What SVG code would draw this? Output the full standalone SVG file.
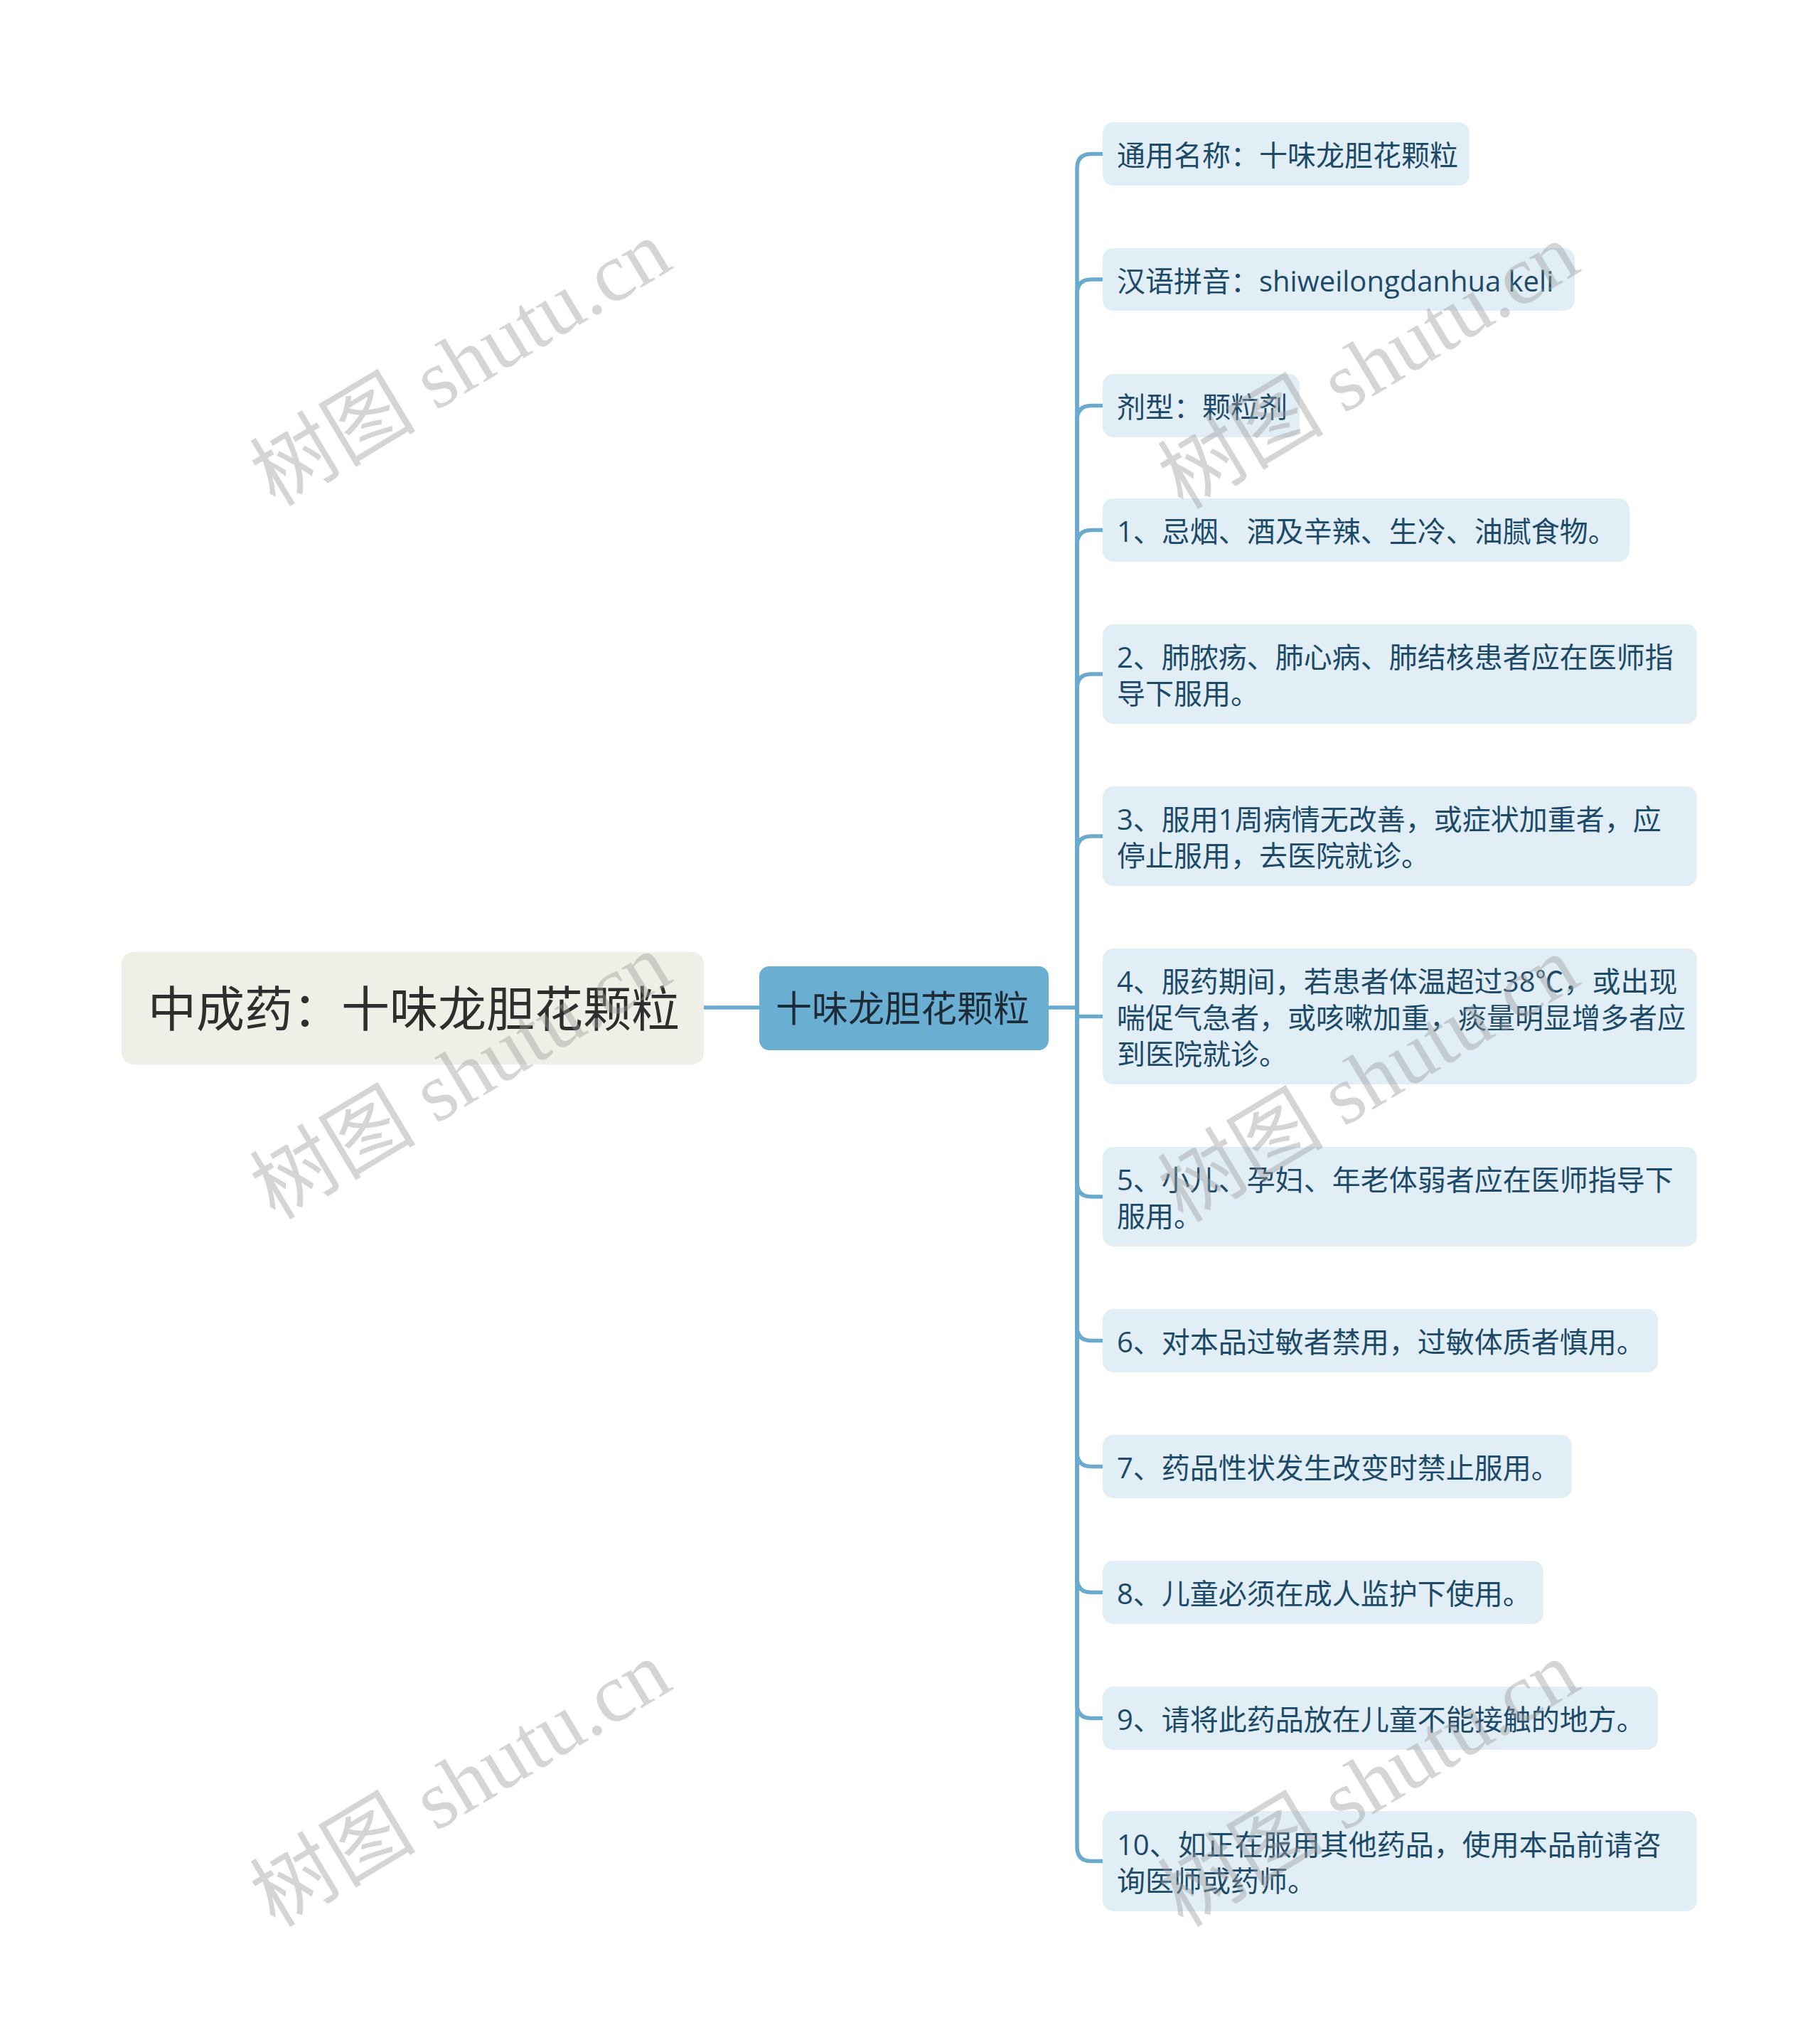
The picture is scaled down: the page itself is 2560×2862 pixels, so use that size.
<svg xmlns="http://www.w3.org/2000/svg" width="2560" height="2862" viewBox="0 0 2560 2862">
<style>
.leaf rect{fill:#E1EEF6;}
.leaf text{font-family:"Open Sans","Noto Sans CJK SC",sans-serif;font-size:40px;fill:#1C4A68;dominant-baseline:central;}
.conn path{fill:none;stroke:#6AAACE;stroke-width:5.5;stroke-linecap:round;}
.wm{font-family:"Liberation Serif","Noto Sans CJK SC",serif;font-size:117px;fill:#9a9a9a;fill-opacity:0.42;text-anchor:middle;dominant-baseline:central;}
</style>
<rect x="0" y="0" width="2560" height="2862" fill="#FFFFFF"/>
<g id="connectors" class="conn">
<path d="M990,1417 L1068,1417"/>
<path d="M1475,1417 L1515,1417"/>
<path d="M1515,1417 L1515,236.5 Q1515,216.5 1535,216.5 L1551,216.5"/>
<path d="M1515,1417 L1515,413 Q1515,393 1535,393 L1551,393"/>
<path d="M1515,1417 L1515,590.5 Q1515,570.5 1535,570.5 L1551,570.5"/>
<path d="M1515,1417 L1515,765.5 Q1515,745.5 1535,745.5 L1551,745.5"/>
<path d="M1515,1417 L1515,968 Q1515,948 1535,948 L1551,948"/>
<path d="M1515,1417 L1515,1196 Q1515,1176 1535,1176 L1551,1176"/>
<path d="M1515,1417 L1515,1429.5 L1551,1429.5"/>
<path d="M1515,1417 L1515,1663 Q1515,1683 1535,1683 L1551,1683"/>
<path d="M1515,1417 L1515,1865.5 Q1515,1885.5 1535,1885.5 L1551,1885.5"/>
<path d="M1515,1417 L1515,2042.5 Q1515,2062.5 1535,2062.5 L1551,2062.5"/>
<path d="M1515,1417 L1515,2219.5 Q1515,2239.5 1535,2239.5 L1551,2239.5"/>
<path d="M1515,1417 L1515,2396.5 Q1515,2416.5 1535,2416.5 L1551,2416.5"/>
<path d="M1515,1417 L1515,2597.5 Q1515,2617.5 1535,2617.5 L1551,2617.5"/>
</g>
<g id="root">
<rect x="171" y="1339" width="819" height="158" rx="16" fill="#EFEFE7"/>
<text x="208" y="1417" font-family="Open Sans, Noto Sans CJK SC, sans-serif" font-size="68" fill="#2E2E2E" dominant-baseline="central">中成药：十味龙胆花颗粒</text>
</g>
<g id="main">
<rect x="1068" y="1359" width="407" height="118" rx="14" fill="#6AAED1"/>
<text x="1091" y="1417" font-family="Open Sans, Noto Sans CJK SC, sans-serif" font-size="51" fill="#1D2B36" dominant-baseline="central">十味龙胆花颗粒</text>
</g>
<g id="leaf1" class="leaf"><rect x="1551" y="172" width="516" height="89" rx="15"/><text x="1571" y="217.5">通用名称：十味龙胆花颗粒</text></g>
<g id="leaf2" class="leaf"><rect x="1551" y="349" width="664" height="88" rx="15"/><text x="1571" y="394">汉语拼音：shiweilongdanhua keli</text></g>
<g id="leaf3" class="leaf"><rect x="1551" y="526" width="277" height="89" rx="15"/><text x="1571" y="571.5">剂型：颗粒剂</text></g>
<g id="leaf4" class="leaf"><rect x="1551" y="701" width="741" height="89" rx="15"/><text x="1571" y="746.5">1、忌烟、酒及辛辣、生冷、油腻食物。</text></g>
<g id="leaf5" class="leaf"><rect x="1551" y="878" width="836" height="140" rx="15"/><text x="1571" y="923.5">2、肺脓疡、肺心病、肺结核患者应在医师指</text><text x="1571" y="974.5">导下服用。</text></g>
<g id="leaf6" class="leaf"><rect x="1551" y="1106" width="836" height="140" rx="15"/><text x="1571" y="1151.5">3、服用1周病情无改善，或症状加重者，应</text><text x="1571" y="1202.5">停止服用，去医院就诊。</text></g>
<g id="leaf7" class="leaf"><rect x="1551" y="1334" width="836" height="191" rx="15"/><text x="1571" y="1379.5">4、服药期间，若患者体温超过38℃，或出现</text><text x="1571" y="1430.5">喘促气急者，或咳嗽加重，痰量明显增多者应</text><text x="1571" y="1481.5">到医院就诊。</text></g>
<g id="leaf8" class="leaf"><rect x="1551" y="1613" width="836" height="140" rx="15"/><text x="1571" y="1658.5">5、小儿、孕妇、年老体弱者应在医师指导下</text><text x="1571" y="1709.5">服用。</text></g>
<g id="leaf9" class="leaf"><rect x="1551" y="1841" width="781" height="89" rx="15"/><text x="1571" y="1886.5">6、对本品过敏者禁用，过敏体质者慎用。</text></g>
<g id="leaf10" class="leaf"><rect x="1551" y="2018" width="660" height="89" rx="15"/><text x="1571" y="2063.5">7、药品性状发生改变时禁止服用。</text></g>
<g id="leaf11" class="leaf"><rect x="1551" y="2195" width="620" height="89" rx="15"/><text x="1571" y="2240.5">8、儿童必须在成人监护下使用。</text></g>
<g id="leaf12" class="leaf"><rect x="1551" y="2372" width="781" height="89" rx="15"/><text x="1571" y="2417.5">9、请将此药品放在儿童不能接触的地方。</text></g>
<g id="leaf13" class="leaf"><rect x="1551" y="2547" width="836" height="141" rx="15"/><text x="1571" y="2593">10、如正在服用其他药品，使用本品前请咨</text><text x="1571" y="2644">询医师或药师。</text></g>
<g id="watermarks">
<text class="wm" x="648" y="511" transform="rotate(-31 648 511)">树图 shutu.cn</text>
<text class="wm" x="1925" y="515" transform="rotate(-31 1925 515)">树图 shutu.cn</text>
<text class="wm" x="648" y="1514" transform="rotate(-31 648 1514)">树图 shutu.cn</text>
<text class="wm" x="1925" y="1518" transform="rotate(-31 1925 1518)">树图 shutu.cn</text>
<text class="wm" x="648" y="2509" transform="rotate(-31 648 2509)">树图 shutu.cn</text>
<text class="wm" x="1925" y="2509" transform="rotate(-31 1925 2509)">树图 shutu.cn</text>
</g>
</svg>
